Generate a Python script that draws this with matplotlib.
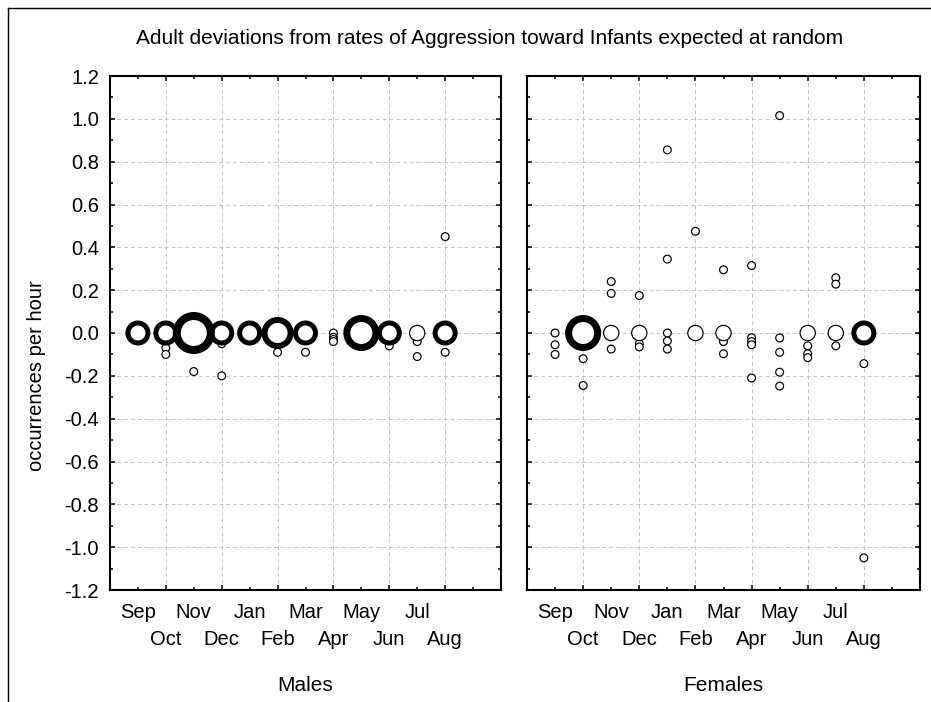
import numpy as np
import matplotlib
matplotlib.use("Agg")
import matplotlib.pyplot as plt
from matplotlib.lines import Line2D
from matplotlib.ticker import FixedLocator, FixedFormatter, MultipleLocator, FormatStrFormatter

plt.rcParams['font.family'] = ['Liberation Sans', 'DejaVu Sans']
plt.rcParams['axes.unicode_minus'] = False

months = ["Sep", "Oct", "Nov", "Dec", "Jan", "Feb",
          "Mar", "Apr", "May", "Jun", "Jul", "Aug"]

# deviations per individual; count = how many animals share that value
male_month = ["Sep",
              "Oct", "Oct", "Oct",
              "Nov", "Nov",
              "Dec", "Dec", "Dec",
              "Jan",
              "Feb", "Feb",
              "Mar", "Mar",
              "Apr", "Apr", "Apr", "Apr",
              "May",
              "Jun", "Jun",
              "Jul", "Jul", "Jul",
              "Aug", "Aug", "Aug"]
male_value = [0.0,
              0.0, -0.07, -0.10,
              0.0, -0.18,
              0.0, -0.05, -0.20,
              0.0,
              0.0, -0.09,
              0.0, -0.09,
              0.0, -0.02, -0.03, -0.04,
              0.0,
              0.0, -0.06,
              0.0, -0.04, -0.11,
              0.0, -0.09, 0.45]
male_count = [3,
              3, 1, 1,
              6, 1,
              3, 1, 1,
              3,
              4, 1,
              3, 1,
              1, 1, 1, 1,
              5,
              3, 1,
              2, 1, 1,
              3, 1, 1]

female_month = ["Sep", "Sep", "Sep",
                "Oct", "Oct", "Oct",
                "Nov", "Nov", "Nov", "Nov",
                "Dec", "Dec", "Dec", "Dec",
                "Jan", "Jan", "Jan", "Jan", "Jan",
                "Feb", "Feb",
                "Mar", "Mar", "Mar", "Mar",
                "Apr", "Apr", "Apr", "Apr", "Apr",
                "May", "May", "May", "May", "May",
                "Jun", "Jun", "Jun", "Jun",
                "Jul", "Jul", "Jul", "Jul",
                "Aug", "Aug", "Aug"]
female_value = [0.0, -0.055, -0.10,
                0.0, -0.12, -0.245,
                0.0, 0.24, 0.185, -0.075,
                0.0, 0.175, -0.05, -0.065,
                0.0, -0.037, -0.075, 0.345, 0.855,
                0.0, 0.475,
                0.0, 0.295, -0.04, -0.097,
                0.315, -0.022, -0.04, -0.055, -0.21,
                -0.023, -0.09, -0.183, -0.248, 1.015,
                0.0, -0.06, -0.097, -0.115,
                0.0, 0.258, 0.228, -0.06,
                0.0, -0.143, -1.05]
female_count = [1, 1, 1,
                5, 1, 1,
                2, 1, 1, 1,
                2, 1, 1, 1,
                1, 1, 1, 1, 1,
                2, 1,
                2, 1, 1, 1,
                1, 1, 1, 1, 1,
                1, 1, 1, 1, 1,
                2, 1, 1, 1,
                2, 1, 1, 1,
                3, 1, 1]

# bubble look per count: (outer diameter, ring thickness) in pixels
RING = {1: (9, 1.2), 2: (16.5, 1.2), 3: (25, 5), 4: (32, 6), 5: (36, 7), 6: (42, 8)}
PT = 72.0 / 100  # points per pixel at dpi 100

fig = plt.figure(figsize=(9.31, 7.02), dpi=100)
W, H = 931.0, 702.0


def px_axes(x0, x1, y0, y1):
    return fig.add_axes([x0 / W, 1 - y1 / H, (x1 - x0) / W, (y1 - y0) / H])


def draw_panel(ax, month, value, count, label, show_y):
    x = np.array([months.index(m) + 1 for m in month])
    y = np.array(value)
    n = np.array(count)
    outer = np.array([RING[k][0] for k in n]) * PT
    ring = np.array([RING[k][1] for k in n]) * PT
    order = np.argsort(n, kind="stable")
    ax.scatter(x[order], y[order], s=((outer - ring) ** 2)[order],
               facecolors="white", edgecolors="black",
               linewidths=ring[order], zorder=3)

    ax.set_xlim(0, 14)
    ax.set_ylim(-1.2, 1.2)

    ax.xaxis.set_major_locator(FixedLocator(range(2, 13, 2)))
    ax.xaxis.set_major_formatter(FixedFormatter(months[1::2]))
    ax.xaxis.set_minor_locator(FixedLocator(range(1, 14, 2)))
    ax.xaxis.set_minor_formatter(FixedFormatter(months[0::2] + [""]))
    ax.yaxis.set_major_locator(MultipleLocator(0.2))
    ax.yaxis.set_minor_locator(MultipleLocator(0.1))
    ax.yaxis.set_major_formatter(FormatStrFormatter("%.1f"))

    ax.tick_params(which="both", direction="in", top=True, right=True,
                   width=1.1, labelsize=14.5, colors="black")
    ax.tick_params(which="major", length=3.8)
    ax.tick_params(which="minor", length=2.2)
    ax.tick_params(axis="x", which="minor", pad=9.5)
    ax.tick_params(axis="x", which="major", pad=29)
    ax.tick_params(axis="y", pad=8, labelleft=show_y)

    ax.grid(True, which="major", color="#c4c4c4", linestyle=(0, (4, 3)), linewidth=0.7)
    ax.set_axisbelow(True)
    for sp in ax.spines.values():
        sp.set_linewidth(1.5)

    ax.set_xlabel(label, fontsize=15)
    ax.xaxis.set_label_coords(0.5, -0.168)


ax_m = px_axes(110, 501, 76, 590)
ax_f = px_axes(527, 920, 76, 590)
draw_panel(ax_m, male_month, male_value, male_count, "Males", True)
draw_panel(ax_f, female_month, female_value, female_count, "Females", False)

fig.text(490 / W, 1 - 38 / H,
         "Adult deviations from rates of Aggression toward Infants expected at random",
         ha="center", va="center", fontsize=15)
fig.text(37 / W, 1 - 376 / H, "occurrences per hour", rotation=90,
         ha="center", va="center", fontsize=14.5)

# outer frame (left and top edges)
fig.add_artist(Line2D([7.5 / W, 7.5 / W], [0, 1 - 8 / H], color="black", linewidth=1.0))
fig.add_artist(Line2D([7.5 / W, 1], [1 - 8 / H, 1 - 8 / H], color="black", linewidth=1.0))

fig.savefig("out.png", dpi=100)
